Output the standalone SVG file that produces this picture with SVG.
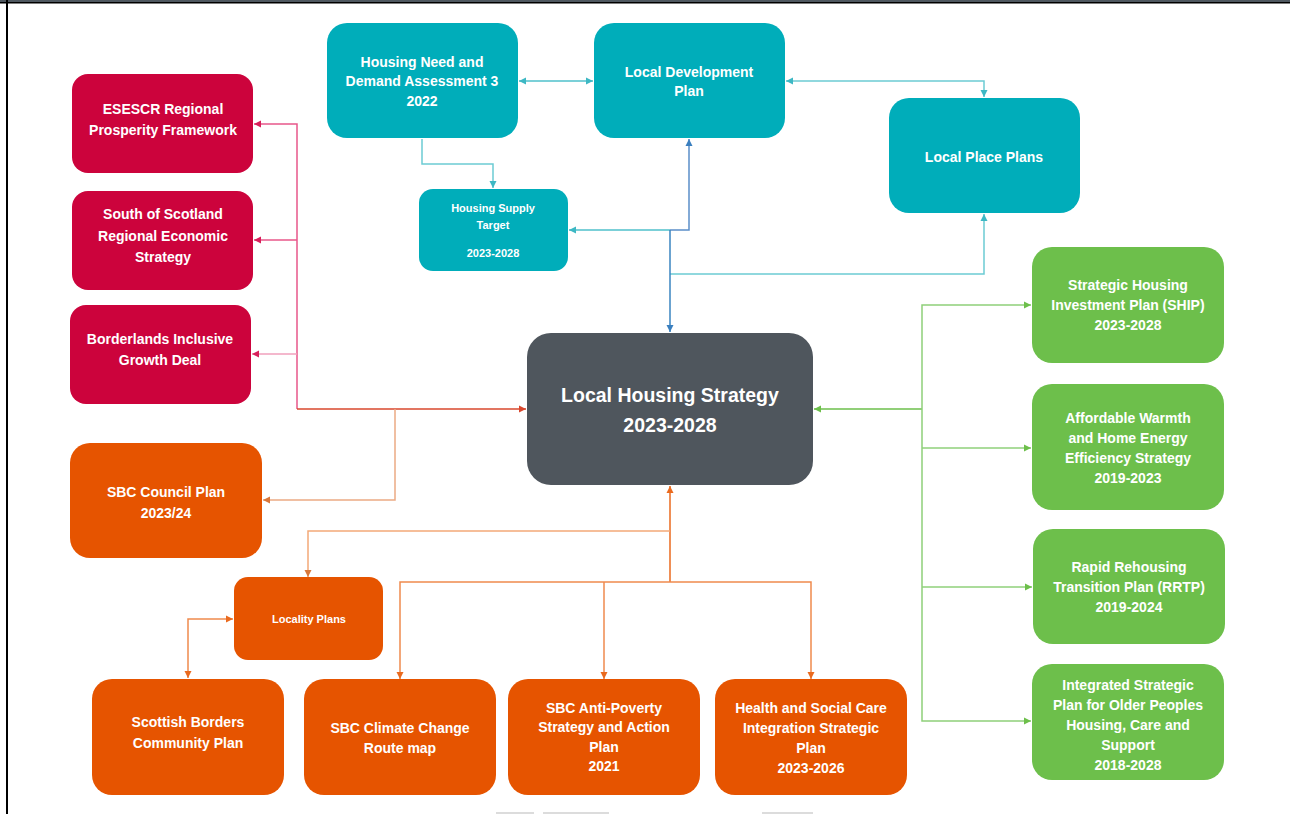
<svg xmlns="http://www.w3.org/2000/svg" width="1290" height="814" viewBox="0 0 1290 814">
<style>
.t{font-family:"Liberation Sans",Arial,sans-serif;font-weight:bold;font-size:14px;fill:#ffffff;text-anchor:middle}
.s{font-size:11px}
.b{font-size:19.5px}
.teal{fill:#00adba}
.red{fill:#cc033c}
.org{fill:#e65400}
.grn{fill:#6dbf4b}
.ctr{fill:#4f565d}
.c{fill:none;stroke-width:1.5}
</style>
<defs>
<marker id="aT" markerUnits="userSpaceOnUse" markerWidth="8" markerHeight="8" refX="7" refY="4" orient="auto-start-reverse"><path d="M0,0.5 L7,4 L0,7.5 z" fill="#3db8c4"/></marker>
<marker id="aB" markerUnits="userSpaceOnUse" markerWidth="8" markerHeight="8" refX="7" refY="4" orient="auto-start-reverse"><path d="M0,0.5 L7,4 L0,7.5 z" fill="#3a7fbf"/></marker>
<marker id="aP" markerUnits="userSpaceOnUse" markerWidth="8" markerHeight="8" refX="7" refY="4" orient="auto-start-reverse"><path d="M0,0.5 L7,4 L0,7.5 z" fill="#d81f5a"/></marker>
<marker id="aR" markerUnits="userSpaceOnUse" markerWidth="8" markerHeight="8" refX="7" refY="4" orient="auto-start-reverse"><path d="M0,0.5 L7,4 L0,7.5 z" fill="#d9472c"/></marker>
<marker id="aL" markerUnits="userSpaceOnUse" markerWidth="8" markerHeight="8" refX="7" refY="4" orient="auto-start-reverse"><path d="M0,0.5 L7,4 L0,7.5 z" fill="#d9773a"/></marker>
<marker id="aO" markerUnits="userSpaceOnUse" markerWidth="8" markerHeight="8" refX="7" refY="4" orient="auto-start-reverse"><path d="M0,0.5 L7,4 L0,7.5 z" fill="#ea6a1e"/></marker>
<marker id="aG" markerUnits="userSpaceOnUse" markerWidth="8" markerHeight="8" refX="7" refY="4" orient="auto-start-reverse"><path d="M0,0.5 L7,4 L0,7.5 z" fill="#6dbf4b"/></marker>
</defs>
<rect x="0" y="0" width="1290" height="814" fill="#ffffff"/>
<rect x="0" y="0" width="1290" height="2" fill="#4f5860"/>
<rect x="0" y="2" width="1290" height="1.5" fill="#000000"/>
<rect x="6" y="0" width="2" height="814" fill="#000000"/>
<g id="artifacts" fill="#dcdcdc">
<rect x="496" y="812" width="38" height="2"/>
<rect x="543" y="812" width="66" height="2"/>
<rect x="762" y="812" width="51" height="2"/>
</g>
<g id="connectors">
<!-- teal -->
<path class="c" d="M519,81 H593" stroke="#4fc0cb" marker-start="url(#aT)" marker-end="url(#aT)"/>
<path class="c" d="M786,81 H984 V97" stroke="#6ccbd4" marker-start="url(#aT)" marker-end="url(#aT)"/>
<path class="c" d="M422,139 V164 H493 V188" stroke="#6ccbd4" marker-end="url(#aT)"/>
<path class="c" d="M670,230 H569" stroke="#4fc0cb" marker-end="url(#aT)"/>
<path class="c" d="M670,230 H689 V139" stroke="#5b8fc9" marker-end="url(#aB)"/>
<path class="c" d="M670,274 H984 V214" stroke="#6ccbd4" marker-end="url(#aT)"/>
<path class="c" d="M670,230 V332" stroke="#3a85c0" stroke-width="2" marker-end="url(#aB)"/>
<!-- red/pink -->
<path class="c" d="M297,409 V124 H254" stroke="#e8578a" marker-end="url(#aP)"/>
<path class="c" d="M297,240 H254" stroke="#e8578a" marker-end="url(#aP)"/>
<path class="c" d="M297,354 H252" stroke="#f0a0bc" marker-end="url(#aP)"/>
<path class="c" d="M297,409 H526" stroke="#d9472c" stroke-width="2" marker-end="url(#aR)"/>
<path class="c" d="M395,409 V500 H263" stroke="#ecaa84" marker-end="url(#aL)"/>
<!-- orange bottom -->
<path class="c" d="M670,582 V486" stroke="#ea6a1e" stroke-width="2" marker-end="url(#aO)"/>
<path class="c" d="M670,531 H308 V577" stroke="#f3a978" marker-end="url(#aL)"/>
<path class="c" d="M400,679 V582 H811 V679" stroke="#ef8a4e" marker-start="url(#aO)" marker-end="url(#aO)"/>
<path class="c" d="M604,582 V679" stroke="#ef8a4e" marker-end="url(#aO)"/>
<path class="c" d="M233,619 H188 V678" stroke="#ef8a4e" marker-start="url(#aO)" marker-end="url(#aO)"/>
<!-- green -->
<path class="c" d="M922,409 H814" stroke="#6dbf4b" stroke-width="2" marker-end="url(#aG)"/>
<path class="c" d="M1031,305 H922 V721 H1031" stroke="#8fd07a" marker-start="url(#aG)" marker-end="url(#aG)"/>
<path class="c" d="M922,448 H1031" stroke="#8fd07a" marker-end="url(#aG)"/>
<path class="c" d="M922,587 H1032" stroke="#8fd07a" marker-end="url(#aG)"/>
</g>
<g id="hnda"><rect class="teal" x="327" y="23" width="191" height="115" rx="20"/>
<text class="t" x="422" y="67">Housing Need and</text><text class="t" x="422" y="86">Demand Assessment 3</text><text class="t" x="422" y="106">2022</text></g>
<g id="ldp"><rect class="teal" x="594" y="23" width="191" height="115" rx="20"/>
<text class="t" x="689" y="77">Local Development</text><text class="t" x="689" y="96">Plan</text></g>
<g id="hst"><rect class="teal" x="419" y="189" width="149" height="82" rx="14"/>
<text class="t s" x="493" y="212">Housing Supply</text><text class="t s" x="493" y="229">Target</text><text class="t s" x="493" y="257">2023-2028</text></g>
<g id="lpp"><rect class="teal" x="889" y="98" width="191" height="115" rx="20"/>
<text class="t" x="984" y="162">Local Place Plans</text></g>
<g id="esescr"><rect class="red" x="72" y="74" width="181" height="99" rx="16"/>
<text class="t" x="163" y="114">ESESCR Regional</text><text class="t" x="163" y="135">Prosperity Framework</text></g>
<g id="south"><rect class="red" x="72" y="191" width="181" height="99" rx="16"/>
<text class="t" x="163" y="219">South of Scotland</text><text class="t" x="163" y="241">Regional Economic</text><text class="t" x="163" y="262">Strategy</text></g>
<g id="borderlands"><rect class="red" x="70" y="305" width="181" height="99" rx="16"/>
<text class="t" x="160" y="344">Borderlands Inclusive</text><text class="t" x="160" y="365">Growth Deal</text></g>
<g id="lhs"><rect class="ctr" x="527" y="333" width="286" height="152" rx="24"/>
<text class="t b" x="670" y="402">Local Housing Strategy</text><text class="t b" x="670" y="432">2023-2028</text></g>
<g id="council"><rect class="org" x="70" y="443" width="192" height="115" rx="20"/>
<text class="t" x="166" y="497">SBC Council Plan</text><text class="t" x="166" y="518">2023/24</text></g>
<g id="locality"><rect class="org" x="234" y="577" width="149" height="83" rx="14"/>
<text class="t s" x="309" y="623">Locality Plans</text></g>
<g id="sbcp"><rect class="org" x="92" y="679" width="192" height="116" rx="20"/>
<text class="t" x="188" y="727">Scottish Borders</text><text class="t" x="188" y="748">Community Plan</text></g>
<g id="climate"><rect class="org" x="304" y="679" width="192" height="116" rx="20"/>
<text class="t" x="400" y="733">SBC Climate Change</text><text class="t" x="400" y="753">Route map</text></g>
<g id="antipoverty"><rect class="org" x="508" y="679" width="192" height="116" rx="20"/>
<text class="t" x="604" y="713">SBC Anti-Poverty</text><text class="t" x="604" y="732">Strategy and Action</text><text class="t" x="604" y="752">Plan</text><text class="t" x="604" y="771">2021</text></g>
<g id="health"><rect class="org" x="715" y="679" width="192" height="116" rx="20"/>
<text class="t" x="811" y="713">Health and Social Care</text><text class="t" x="811" y="733">Integration Strategic</text><text class="t" x="811" y="753">Plan</text><text class="t" x="811" y="773">2023-2026</text></g>
<g id="ship"><rect class="grn" x="1032" y="247" width="192" height="116" rx="20"/>
<text class="t" x="1128" y="290">Strategic Housing</text><text class="t" x="1128" y="310">Investment Plan (SHIP)</text><text class="t" x="1128" y="330">2023-2028</text></g>
<g id="warmth"><rect class="grn" x="1032" y="384" width="192" height="126" rx="20"/>
<text class="t" x="1128" y="423">Affordable Warmth</text><text class="t" x="1128" y="443">and Home Energy</text><text class="t" x="1128" y="463">Efficiency Strategy</text><text class="t" x="1128" y="483">2019-2023</text></g>
<g id="rrtp"><rect class="grn" x="1033" y="529" width="192" height="115" rx="20"/>
<text class="t" x="1129" y="572">Rapid Rehousing</text><text class="t" x="1129" y="592">Transition Plan (RRTP)</text><text class="t" x="1129" y="612">2019-2024</text></g>
<g id="older"><rect class="grn" x="1032" y="664" width="192" height="116" rx="20"/>
<text class="t" x="1128" y="690">Integrated Strategic</text><text class="t" x="1128" y="710">Plan for Older Peoples</text><text class="t" x="1128" y="730">Housing, Care and</text><text class="t" x="1128" y="750">Support</text><text class="t" x="1128" y="770">2018-2028</text></g>
</svg>
